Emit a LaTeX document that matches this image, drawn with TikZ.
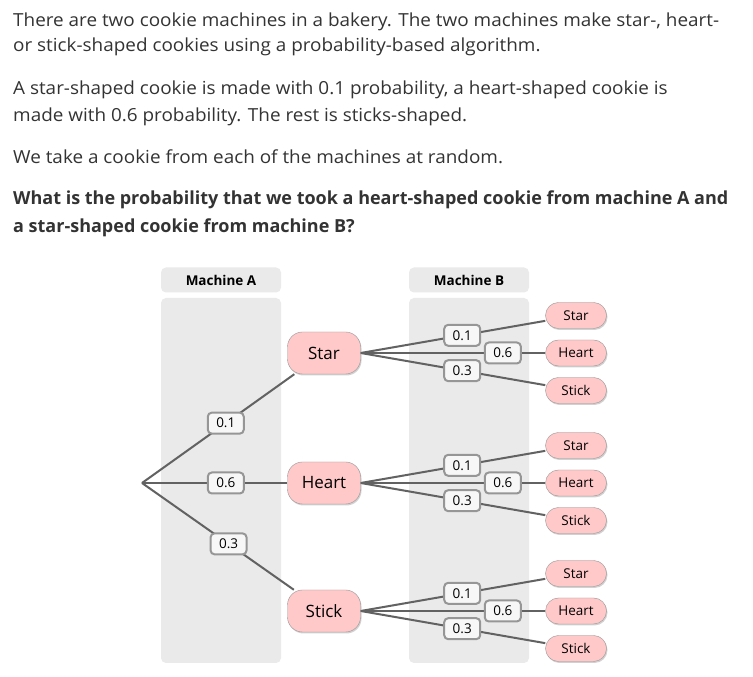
\documentclass[tikz,border=0pt]{standalone}
\usepackage{fontspec}
\setmainfont{Open Sans}
\newfontfamily\widesans[FakeStretch=1.05]{Open Sans}
\usetikzlibrary{shadows,backgrounds,positioning}
\definecolor{inkgray}{RGB}{51,51,51}
\definecolor{linegray}{RGB}{98,98,98}
\definecolor{edgegray}{RGB}{150,150,150}
\definecolor{colgray}{RGB}{234,234,234}
\definecolor{cookiepink}{RGB}{255,201,201}
\definecolor{probwhite}{RGB}{247,247,247}
\tikzset{
    cookie/.style = {draw=edgegray, fill=cookiepink, rectangle,
        rounded corners=15pt, text=black,
        minimum height=42pt, minimum width=73pt, align=center,
        font=\fontsize{17}{20}\selectfont,
        drop shadow={shadow xshift=1pt, shadow yshift=-1.5pt, fill=black, opacity=0.18}},
    smallcookie/.style = {cookie, rounded corners=13pt,
        minimum height=26pt, minimum width=61pt,
        font=\fontsize{13.5}{16}\selectfont},
    prob/.style = {draw=edgegray, fill=probwhite, rectangle, rounded corners=4pt,
        minimum height=21pt, minimum width=36pt, inner sep=2pt, text=black,
        font=\fontsize{13.5}{16}\selectfont},
    branch/.style = {coordinate},
    line/.style = {draw=linegray, line width=2pt},
    header/.style = {fill=colgray, rectangle, rounded corners=5pt, text=black,
        minimum width=120pt, minimum height=25pt,
        font=\bfseries\fontsize{13.5}{16}\selectfont},
    para/.style = {anchor=base west, inner sep=0pt, text=inkgray,
        font=\widesans\fontsize{18}{20}\selectfont},
    boldpara/.style = {para, font=\bfseries\fontsize{18}{20}\selectfont}
}

\begin{document}
\begin{tikzpicture}[x=1pt, y=1pt, node distance=2cm]
    \useasboundingbox (0,0) rectangle (753,677);
    \fill [white] (0,0) rectangle (753,677);
    % question text
    \node [para, name=txt1] at (13,650) {There are two cookie machines in a bakery. The two machines make star-, heart-};
    \node [para, name=txt2] at (13,625) {or stick-shaped cookies using a probability-based algorithm.};
    \node [para, name=txt3] at (13,582) {A star-shaped cookie is made with 0.1 probability, a heart-shaped cookie is};
    \node [para, name=txt4] at (13,555) {made with 0.6 probability. The rest is sticks-shaped.};
    \node [para, name=txt5] at (13,513) {We take a cookie from each of the machines at random.};
    \node [boldpara, name=txt6] at (13,472) {What is the probability that we took a heart-shaped cookie from machine A and};
    \node [boldpara, name=txt7] at (13,444) {a star-shaped cookie from machine B?};
    % columns
    \node [header, name=headA] at (221,397) {Machine A};
    \node [header, right of=headA, node distance=248pt, name=headB] {Machine B};
    \fill [colgray, rounded corners=5pt] (161,14) rectangle (281,379);
    \fill [colgray, rounded corners=5pt] (409,14) rectangle (529,379);
    % machine A
    \node [branch, name=root] at (142,194) {};
    \node [cookie, right of=root, node distance=182pt, name=heart1] {Heart};
    \node [cookie, above of=heart1, node distance=130pt, name=star1] {Star};
    \node [cookie, below of=heart1, node distance=128pt, name=stick1] {Stick};
    \draw [line] (root) -- node [prob, pos=0.55] {0.1} (star1);
    \draw [line] (root) -- node [prob, pos=0.577] {0.6} (heart1);
    \draw [line] (root) -- node [prob, pos=0.57] {0.3} (stick1);
    % machine B after star
    \node [smallcookie, right of=star1, node distance=252pt, name=heart2a] {Heart};
    \node [smallcookie, above of=heart2a, node distance=37.5pt, name=star2a] {Star};
    \node [smallcookie, below of=heart2a, node distance=37.5pt, name=stick2a] {Stick};
    \draw [line] (star1.east) -- node [prob, pos=0.55] {0.1} (star2a);
    \draw [line] (star1.east) -- node [prob, pos=0.77] {0.6} (heart2a);
    \draw [line] (star1.east) -- node [prob, pos=0.55] {0.3} (stick2a);
    % machine B after heart
    \node [smallcookie, right of=heart1, node distance=252pt, name=heart2b] {Heart};
    \node [smallcookie, above of=heart2b, node distance=37.5pt, name=star2b] {Star};
    \node [smallcookie, below of=heart2b, node distance=37.5pt, name=stick2b] {Stick};
    \draw [line] (heart1.east) -- node [prob, pos=0.55] {0.1} (star2b);
    \draw [line] (heart1.east) -- node [prob, pos=0.77] {0.6} (heart2b);
    \draw [line] (heart1.east) -- node [prob, pos=0.55] {0.3} (stick2b);
    % machine B after stick
    \node [smallcookie, right of=stick1, node distance=252pt, name=heart2c] {Heart};
    \node [smallcookie, above of=heart2c, node distance=37.5pt, name=star2c] {Star};
    \node [smallcookie, below of=heart2c, node distance=37.5pt, name=stick2c] {Stick};
    \draw [line] (stick1.east) -- node [prob, pos=0.55] {0.1} (star2c);
    \draw [line] (stick1.east) -- node [prob, pos=0.77] {0.6} (heart2c);
    \draw [line] (stick1.east) -- node [prob, pos=0.55] {0.3} (stick2c);
\end{tikzpicture}
\end{document}
